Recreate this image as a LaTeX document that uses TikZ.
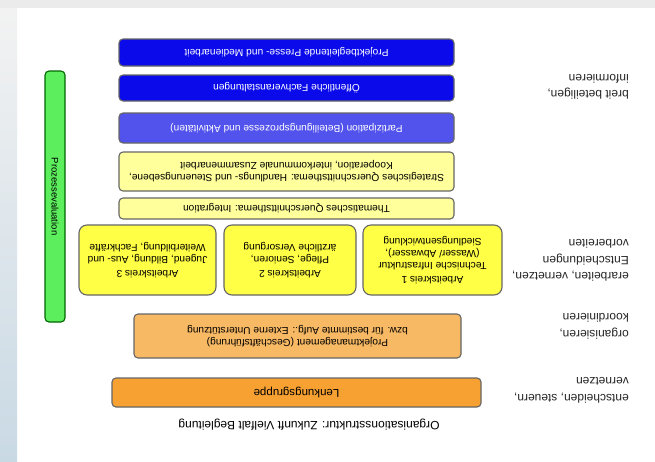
\documentclass[tikz,border=0pt]{standalone}
\usepackage{fontspec}
\setmainfont{Liberation Sans}
\usepackage{xcolor}
\usepackage{tikz}

\definecolor{deepblue}{HTML}{0A0AEA}
\definecolor{midblue}{HTML}{5252EC}
\definecolor{paleyellow}{HTML}{FFFF9C}
\definecolor{akyellow}{HTML}{FFFF45}
\definecolor{paleorange}{HTML}{F8B964}
\definecolor{lkorange}{HTML}{F7A132}
\definecolor{bargreen}{HTML}{5CEE5C}
\definecolor{sidegrey}{HTML}{C9D9E4}

\begin{document}
\begin{tikzpicture}[x=1pt, y=-1pt,
            box/.style = {draw=black!60, line width=1.1pt, rounded corners=4pt,
                         rotate=180, align=center, inner sep=1pt,
                         font=\fontsize{10.2}{12}\selectfont},
            lbl/.style = {rotate=180, anchor=west, align=left, inner sep=0pt,
                         text=black!85, font=\fontsize{12}{16.5}\selectfont}
        ]
            \useasboundingbox (0,0) rectangle (655,461);
            \fill[white] (0,0) rectangle (655,461);
            \fill[black!8] (0,0) rectangle (655,8);
            \shade[top color=black!5, bottom color=sidegrey] (0,8) rectangle (17,461);

            %
            \node (pmed) at (286.5,52.5) [box, fill=deepblue, text=white,
                 minimum width=335, minimum height=27] {Projektbegleitende Presse- und Medienarbeit};
            \node (fach) at (286.5,88) [box, fill=deepblue, text=white,
                 minimum width=335, minimum height=26] {Öffentliche Fachveranstaltungen};
            \node (part) at (286.5,128) [box, fill=midblue, text=white,
                 minimum width=335, minimum height=30] {Partizipation (Beteiligungsprozesse und Aktivitäten)};
            \node (strat) at (286.5,171.5) [box, fill=paleyellow,
                 minimum width=335, minimum height=39] {Strategisches Querschnittsthema: Handlungs- und Steuerungsebene,\\
                 Kooperation, interkommunale Zusammenarbeit};
            \node (thema) at (286.5,208.5) [box, fill=paleyellow,
                 minimum width=335, minimum height=21] {Thematisches Querschnittsthema: Integration};
            \node (ak1) at (432.5,260) [box, fill=akyellow, rounded corners=8pt,
                 minimum width=139, minimum height=70] {Arbeitskreis 1\\[2pt] Technische Infrastruktur\\
                 (Wasser/ Abwasser),\\ Siedlungsentwicklung};
            \node (ak2) at (290,260) [box, fill=akyellow, rounded corners=8pt,
                 minimum width=132, minimum height=70] {Arbeitskreis 2\\[2pt] Pflege, Senioren,\\ ärztliche Versorgung};
            \node (ak3) at (147.5,260) [box, fill=akyellow, rounded corners=8pt,
                 minimum width=137, minimum height=70] {Arbeitskreis 3\\[2pt] Jugend, Bildung, Aus- und\\
                 Weiterbildung, Fachkräfte};
            \node (pm) at (297.5,336) [box, fill=paleorange,
                 minimum width=327, minimum height=44] {Projektmanagement (Geschäftsführung)\\
                 bzw. für bestimmte Aufg.: Externe Unterstützung};
            \node (lenk) at (296.5,392.5) [box, fill=lkorange, font=\fontsize{11.5}{13}\selectfont,
                 minimum width=369, minimum height=29] {Lenkungsgruppe};
            \node (cap) at (309,425) [rotate=180, font=\fontsize{12}{14}\selectfont]
                 {Organisationsstruktur: Zukunft Vielfalt Begleitung};
            \node (eval) at (55,196.5) [box, fill=bargreen, draw=green!40!black, rotate=90,
                 minimum width=251, minimum height=20, font=\fontsize{9.5}{11}\selectfont] {Prozessevaluation};

            %
            \node (linf) at (629,87) [lbl] {breit beteiligen,\\ informieren};
            \node (lerb) at (629,260.5) [lbl] {erarbeiten, vernetzen,\\ Entscheidungen\\ vorbereiten};
            \node (lorg) at (629,326.5) [lbl] {organisieren,\\ koordinieren};
            \node (lent) at (629,390.5) [lbl] {entscheiden, steuern,\\ vernetzen};
        \end{tikzpicture}
\end{document}
